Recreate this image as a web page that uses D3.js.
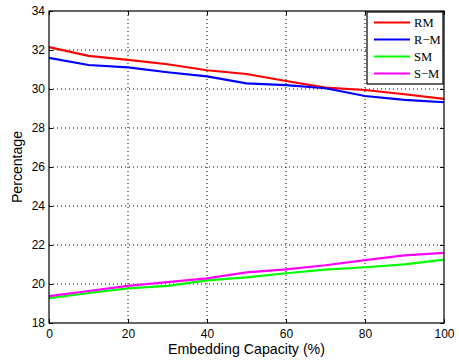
<!DOCTYPE html>
<html><head><meta charset="utf-8">
<script src="https://cdn.jsdelivr.net/npm/d3@7"></script>
<style>body{margin:0;background:#fff}svg{display:block}</style>
</head><body>
<svg id="c" width="459" height="360"></svg>
<script>
const capacity = [0,10,20,30,40,50,60,70,80,90,100];
const seriesNames = ["RM","R\u2212M","SM","S\u2212M"];
const seriesColors = ["#ff0000","#0000ff","#00ff00","#ff00ff"];
const rmValues  = [32.15,31.70,31.49,31.27,30.96,30.77,30.41,30.07,29.95,29.73,29.49];
const rmmValues = [31.60,31.23,31.11,30.86,30.65,30.29,30.20,30.04,29.64,29.44,29.32];
const smValues  = [19.28,19.54,19.78,19.90,20.19,20.34,20.55,20.74,20.86,21.01,21.25];
const smmValues = [19.38,19.64,19.90,20.10,20.29,20.60,20.75,20.96,21.22,21.47,21.60];
const xTicks = [0,20,40,60,80,100];
const yTicks = [18,20,22,24,26,28,30,32,34];

const allSeries = [rmValues, rmmValues, smValues, smmValues];
const svg = d3.select("#c");
const L=49,R=444,T=11,B=323;
const x = d3.scaleLinear().domain([0,100]).range([L,R]);
const y = d3.scaleLinear().domain([18,34]).range([B,T]);
const font = "'Liberation Sans', Arial, Helvetica, sans-serif";

// grid
const g = svg.append("g");
g.selectAll(".vg").data(xTicks.slice(1,-1)).enter().append("line")
 .attr("x1",d=>x(d)).attr("x2",d=>x(d)).attr("y1",T).attr("y2",B)
 .attr("stroke","#000").attr("stroke-width",1).attr("stroke-dasharray","1,3");
g.selectAll(".hg").data(yTicks.slice(1,-1)).enter().append("line")
 .attr("y1",d=>y(d)).attr("y2",d=>y(d)).attr("x1",L).attr("x2",R)
 .attr("stroke","#000").attr("stroke-width",1).attr("stroke-dasharray","1,3");

// lines
const line = d3.line().x((d,i)=>x(capacity[i])).y(d=>y(d));
allSeries.forEach((s,k)=>{
  svg.append("path").datum(s).attr("d",line).attr("fill","none")
    .attr("stroke",seriesColors[k]).attr("stroke-width",2.2);
});

// axes
function styleAxis(sel){
  sel.selectAll("path.domain").remove();
  sel.selectAll("line").attr("stroke","#000");
  sel.selectAll("text").attr("font-family",font).attr("font-size",12).attr("fill","#000");
}
const xb = svg.append("g").attr("transform",`translate(0,${B})`)
  .call(d3.axisBottom(x).tickValues(xTicks).tickSizeInner(-4).tickSizeOuter(0).tickPadding(6));
styleAxis(xb);
const xt = svg.append("g").attr("transform",`translate(0,${T})`)
  .call(d3.axisTop(x).tickValues(xTicks).tickSizeInner(-4).tickSizeOuter(0).tickFormat(""));
styleAxis(xt);
const yl = svg.append("g").attr("transform",`translate(${L},0)`)
  .call(d3.axisLeft(y).tickValues(yTicks).tickSizeInner(-4).tickSizeOuter(0).tickPadding(4));
styleAxis(yl);
const yr = svg.append("g").attr("transform",`translate(${R},0)`)
  .call(d3.axisRight(y).tickValues(yTicks).tickSizeInner(-4).tickSizeOuter(0).tickFormat(""));
styleAxis(yr);

svg.append("rect").attr("x",L).attr("y",T).attr("width",R-L).attr("height",B-T)
  .attr("fill","none").attr("stroke","#000").attr("stroke-width",1.2);

// titles
svg.append("text").attr("x",(L+R)/2).attr("y",354).attr("text-anchor","middle")
  .attr("font-family",font).attr("font-size",14.2).text("Embedding Capacity (%)");
svg.append("text").attr("transform",`translate(22,${(T+B)/2}) rotate(-90)`)
  .attr("text-anchor","middle").attr("font-family",font).attr("font-size",14.1).text("Percentage");

// legend
const lg = svg.append("g");
lg.append("rect").attr("x",367).attr("y",12).attr("width",76).attr("height",72)
  .attr("fill","#fff").attr("stroke","#000").attr("stroke-width",1.2);
seriesNames.forEach((n,k)=>{
  const yy = 22.5 + k*17;
  lg.append("line").attr("x1",374).attr("x2",410).attr("y1",yy).attr("y2",yy)
    .attr("stroke",seriesColors[k]).attr("stroke-width",2.2);
  lg.append("text").attr("x",414).attr("y",yy+4).attr("font-family","'Liberation Serif','Times New Roman',serif")
    .attr("font-size",12.6).text(n);
});
</script>
</body></html>
